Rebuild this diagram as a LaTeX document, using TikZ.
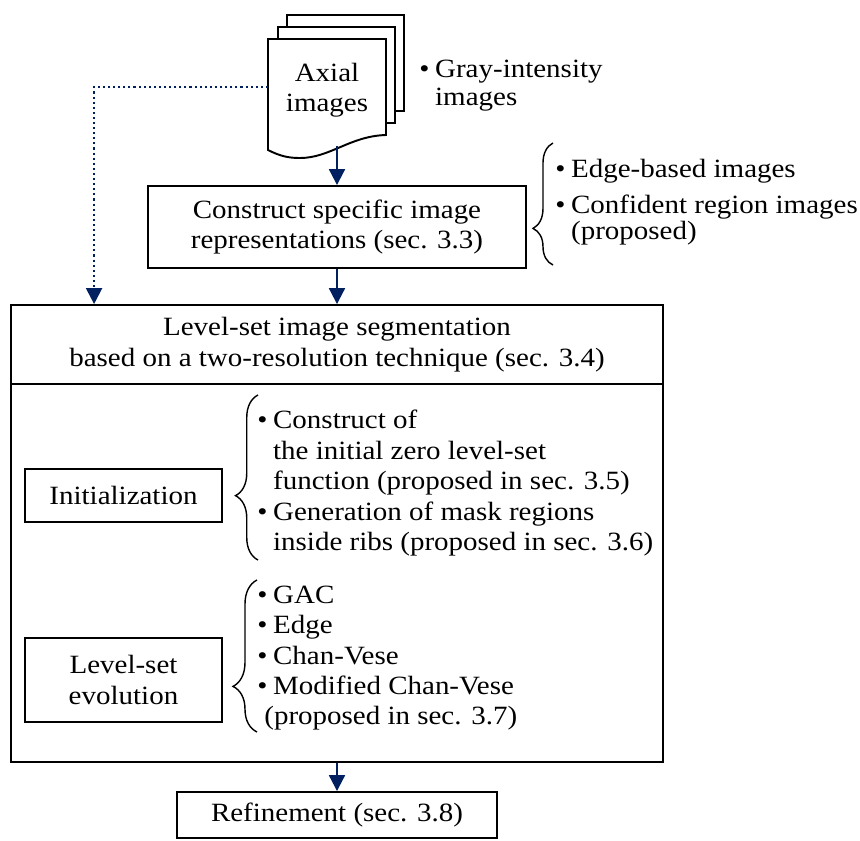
\documentclass[tikz,border=0pt]{standalone}
\usepackage{fontspec}
\setmainfont[FakeStretch=1.1]{Liberation Serif}
\usetikzlibrary{arrows.meta,decorations.pathreplacing,calc}
\definecolor{navy}{HTML}{002060}
\newcommand\bul{\makebox[9pt][l]{\textbullet}}
\newcommand\ind{\hspace*{9pt}}
\newcommand\fl{\rule{0pt}{12pt}}
\begin{document}
\begin{tikzpicture}[x=0.02cm,y=-0.02cm,
  font=\fontsize{15}{17.3}\selectfont,
  box/.style={draw,line width=1.1pt,inner sep=0pt,align=center},
  lst/.style={anchor=north west,inner sep=0pt,align=left},
  page/.style={draw,line width=1.1pt,fill=white},
  arr/.style={navy,line width=1.2pt,-{Triangle[width=9pt,length=9pt]}},
  dotarr/.style={navy,line width=1.2pt,dash pattern=on 1.2pt off 1.7pt,-{Triangle[width=9pt,length=9pt]}},
  brc/.style={decorate,line width=0.8pt}
]
\useasboundingbox (0,0) rectangle (860,840);

% stacked document
\draw[page] (287,15) rectangle (404,111);
\draw[page] (278,27) rectangle (395,123);
\draw[page] (268,39) -- (386,39) -- (386,135)
  .. controls (350,136) and (330,158) .. (300,158)
  .. controls (288,158) and (280,156) .. (268,150) -- cycle;
\node[inner sep=0pt,align=center] (doc) at (327,90) {Axial\\images};
\coordinate (docL) at (268,87);
\coordinate (docB) at (337,146);

\node[lst] (gray) at (419,55.9) {\fl\bul Gray-intensity\\[-1.4pt]\ind images};

% construct box
\node[box,minimum width=7.56cm,minimum height=1.64cm] (cons) at (337,227)
  {Construct specific image\\representations (sec. 3.3)};
\draw[brc,decoration={brace,amplitude=0.4cm,aspect=0.3}] (553,265) -- (553,143);
\node[lst] (edges) at (555,155.9)
  {\fl\bul Edge-based images\\[3.2pt]\bul Confident region images\\[-2.5pt]\ind(proposed)};

% segmentation box
\node[box,minimum width=13.04cm,minimum height=1.58cm] (seg) at (337,344.5)
  {Level-set image segmentation\\based on a two-resolution technique (sec. 3.4)};
\node[box,minimum width=13.04cm,minimum height=7.56cm] (segbody) at (337,573) {};

\node[box,minimum width=3.94cm,minimum height=1.06cm] (init) at (123.5,495.5) {Initialization};
\draw[brc,decoration={brace,amplitude=0.45cm,aspect=0.39}] (258,560) -- (258,395);
\node[lst] (initl) at (257,407.4)
  {\fl\bul Construct of\\\ind the initial zero level-set\\\ind function (proposed in sec. 3.5)\\\bul Generation of mask regions\\\ind inside ribs (proposed in sec. 3.6)};

\node[box,minimum width=3.94cm,minimum height=1.68cm] (evol) at (123.5,680) {Level-set\\evolution};
\draw[brc,decoration={brace,amplitude=0.48cm,aspect=0.3}] (257,732) -- (257,580);
\node[lst] (evoll) at (257,581.9)
  {\fl\bul GAC\\\bul Edge\\\bul Chan-Vese\\\bul Modified Chan-Vese\\\hspace*{4pt}(proposed in sec. 3.7)};

% refinement
\node[box,minimum width=6.4cm,minimum height=0.92cm] (ref) at (337,815) {Refinement (sec. 3.8)};

% connectors
\draw[arr] (docB) -- (cons.north);
\draw[arr] (cons.south) -- (seg.north);
\draw[dotarr] (docL) -| ([xshift=1.68cm]seg.north west);
\draw[arr] (segbody.south) -- (ref.north);
\end{tikzpicture}
\end{document}
